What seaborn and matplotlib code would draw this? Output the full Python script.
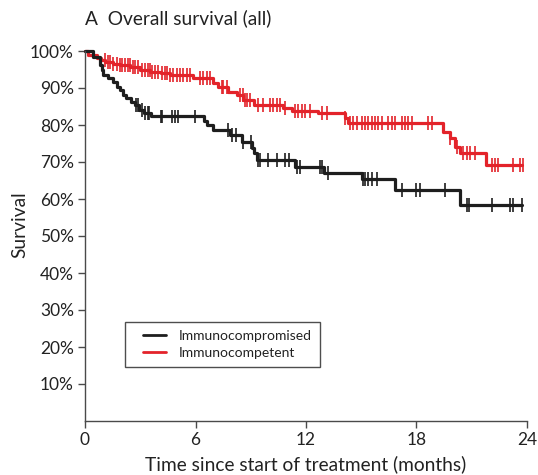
import numpy as np
import pandas as pd
import matplotlib
matplotlib.use("Agg")
import matplotlib.pyplot as plt
from matplotlib.legend_handler import HandlerLine2D
import seaborn as sns

# ---- Kaplan–Meier estimates: step times (months) and survival (%) ----
groups = ["Immunocompromised", "Immunocompetent"]
colors = ["#1e1e1e", "#e3232a"]

comp_times = [0, 0.45, 0.8, 0.9, 1.0, 1.25, 1.5, 1.75, 1.9, 2.05, 2.25, 2.5, 2.7,
              2.95, 3.2, 3.6, 6.45, 6.6, 6.95, 7.85, 8.5, 9.05, 9.15, 9.35, 11.4,
              13.0, 15.05, 16.85, 20.35, 23.75]
comp_surv = [100, 98.5, 96.2, 94.9, 93.5, 92.7, 91.6, 90.3, 89.5, 88.1, 87.3, 86.2,
             85.4, 84.1, 83.2, 82.3, 81.0, 80.0, 78.6, 77.3, 75.4, 73.8, 72.4, 70.5,
             68.6, 67.0, 65.5, 62.4, 58.4, 58.4]
comp_censor = [2.75, 2.9, 3.1, 3.25, 3.4, 3.5, 4.1, 4.2, 4.7, 4.9, 5.05, 5.95,
               7.75, 8.0, 8.2, 8.6, 9.0, 9.4, 9.5, 9.95, 10.4, 10.85, 11.1, 11.5,
               11.7, 12.75, 12.85, 13.2, 15.1, 15.2, 15.35, 15.6, 15.85, 17.2, 18.0,
               18.2, 19.55, 20.75, 20.85, 22.1, 23.1, 23.25, 23.75]

immc_times = [0, 0.15, 0.65, 0.85, 1.1, 1.5, 1.9, 2.45, 3.0, 3.55, 4.1, 4.6, 5.85,
              6.95, 7.2, 7.75, 8.25, 8.6, 9.2, 10.75, 11.25, 12.65, 14.1, 14.3,
              19.45, 19.8, 20.1, 20.35, 21.8, 23.75]
immc_surv = [100, 98.9, 98.1, 97.6, 97.0, 96.6, 96.2, 95.7, 94.9, 94.3, 94.0, 93.5,
             92.7, 91.4, 90.3, 89.0, 88.1, 86.8, 85.4, 84.6, 83.9, 83.2, 81.9, 80.5,
             78.0, 76.5, 74.0, 72.4, 69.2, 69.2]
immc_censor = [1.09, 1.25, 1.36, 1.52, 1.74, 1.90, 2.01, 2.17, 2.33, 2.44, 2.61,
               2.71, 2.88, 3.09, 3.26, 3.42, 3.53, 3.64, 3.80, 3.96, 4.18, 4.34,
               4.45, 4.61, 4.78, 4.99, 5.16, 5.32, 5.54, 5.70, 6.24, 6.41, 6.62,
               6.79, 7.44, 7.49, 7.71, 8.41, 8.58, 8.69, 8.79, 8.96, 9.39, 9.66,
               10.04, 10.21, 10.42, 10.59, 10.86, 11.40, 11.56, 11.78, 11.94, 12.21,
               12.87, 13.14, 14.10, 14.39, 14.55, 14.77, 15.04, 15.20, 15.36, 15.58,
               15.74, 15.91, 16.12, 16.45, 16.67, 16.83, 17.21, 17.37, 17.54, 17.75,
               18.62, 18.84, 19.82, 20.20, 20.52, 20.74, 20.90, 21.17, 22.10, 22.26,
               22.42, 23.24, 23.62, 23.78]

x_ticks = [0, 6, 12, 18, 24]
y_ticks = [10, 20, 30, 40, 50, 60, 70, 80, 90, 100]
y_tick_labels = [f"{v}%" for v in y_ticks]


def level_at(times, surv, t):
    idx = np.searchsorted(times, t, side="right") - 1
    return np.asarray(surv)[np.clip(idx, 0, len(surv) - 1)]


class InsetLineHandler(HandlerLine2D):
    """Legend line that occupies only the right part of the handle box."""

    def __init__(self, fraction=0.7, **kw):
        super().__init__(**kw)
        self.fraction = fraction

    def create_artists(self, legend, orig_handle, xdescent, ydescent, width,
                       height, fontsize, trans):
        artists = super().create_artists(legend, orig_handle, xdescent, ydescent,
                                         width, height, fontsize, trans)
        line = artists[0]
        x0, x1 = line.get_xdata()[0], line.get_xdata()[-1]
        start = x1 - (x1 - x0) * self.fraction
        line.set_xdata([start, x1])
        line.set_ydata([line.get_ydata()[0]] * 2)
        return artists


curves = pd.concat([
    pd.DataFrame({"time": comp_times, "survival": comp_surv, "group": groups[0]}),
    pd.DataFrame({"time": immc_times, "survival": immc_surv, "group": groups[1]}),
], ignore_index=True)

censored = pd.concat([
    pd.DataFrame({"time": comp_censor,
                  "survival": level_at(comp_times, comp_surv, comp_censor),
                  "group": groups[0]}),
    pd.DataFrame({"time": immc_censor,
                  "survival": level_at(immc_times, immc_surv, immc_censor),
                  "group": groups[1]}),
], ignore_index=True)

sns.set_style("ticks")
plt.rcParams["font.family"] = ["Lato", "DejaVu Sans"]

fig = plt.figure(figsize=(5.38, 4.75), dpi=100)
ax = fig.add_axes([85 / 538, 54 / 475, 442 / 538, 370 / 475])

palette = dict(zip(groups, colors))
# red curve first so the black one sits on top where they overlap
sns.lineplot(data=curves, x="time", y="survival", hue="group", hue_order=groups[::-1],
             palette=palette, estimator=None, sort=False, drawstyle="steps-post",
             linewidth=2.3, ax=ax, legend=False)
sns.scatterplot(data=censored, x="time", y="survival", hue="group",
                hue_order=groups[::-1], palette=palette, marker="|", s=100,
                linewidth=1.2, ax=ax, legend=False)
for artist in ax.lines + ax.collections:
    artist.set_clip_on(False)

ax.set_xlim(0, 24)
ax.set_ylim(0, 100)
ax.set_xticks(x_ticks)
ax.set_yticks(y_ticks)
ax.set_yticklabels(y_tick_labels)

spine_col = "#4a4a4a"
for side in ("top", "right"):
    ax.spines[side].set_visible(False)
for side in ("left", "bottom"):
    ax.spines[side].set_color(spine_col)
    ax.spines[side].set_linewidth(1.0)
ax.tick_params(axis="both", colors=spine_col, labelcolor="#222222", length=5,
               width=1.0, labelsize=12.5, pad=3)

ax.set_xlabel("Time since start of treatment (months)", fontsize=13.8, color="#222222")
ax.set_ylabel("Survival", fontsize=13.8, color="#222222")
ax.xaxis.set_label_coords(0.5, -0.092)
ax.yaxis.set_label_coords(-0.128, 0.53)

fig.text(85 / 538, 1 - 18 / 475, "A  Overall survival (all)", fontsize=13.8,
         color="#222222", ha="left", va="center")

handles = [plt.Line2D([], [], color=c, linewidth=2.0) for c in colors]
leg = ax.legend(handles, groups, loc="upper left", bbox_to_anchor=(0.09, 0.268),
                borderaxespad=0, frameon=True, fancybox=False, fontsize=10,
                handlelength=2.4, handletextpad=0.85, labelspacing=0.35,
                borderpad=0.6,
                handler_map={plt.Line2D: InsetLineHandler(fraction=0.7)})
leg.get_frame().set_edgecolor("#222222")
leg.get_frame().set_linewidth(1.0)
for t in leg.get_texts():
    t.set_color("#222222")

fig.savefig("out.png", dpi=100)
